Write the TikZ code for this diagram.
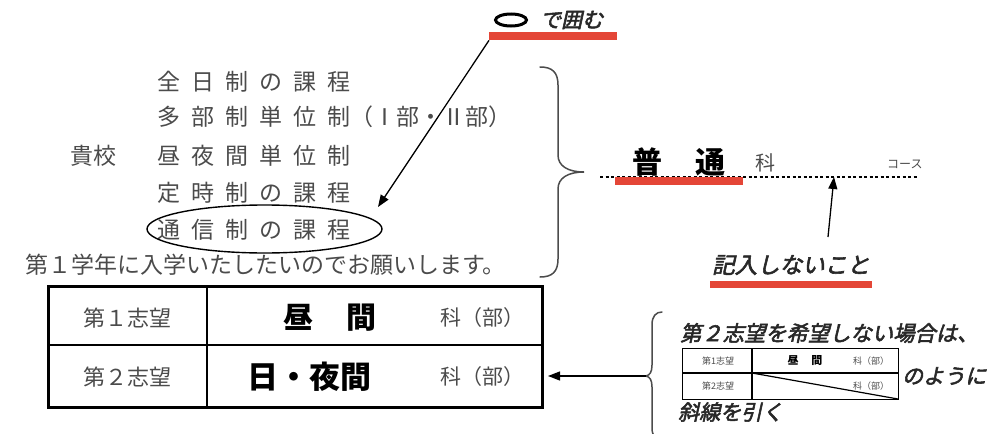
\documentclass[tikz,border=0pt]{standalone}
\usepackage{fontspec}
\usetikzlibrary{arrows.meta,shapes.geometric}
\newfontfamily\jp{Noto Sans CJK JP}
\newfontfamily\jpit{Noto Sans CJK JP}[FakeSlant=0.22,FakeBold=2.6]
\definecolor{txt}{RGB}{75,75,75}
\definecolor{lab}{RGB}{40,40,40}
\definecolor{hl}{RGB}{228,70,55}
\newcommand\fs[1]{\fontsize{#1pt}{#1pt}\selectfont}
\newcommand\gp{\hspace{11pt}}
\begin{document}
\begin{tikzpicture}[x=1pt,y=-1pt,
  body/.style={inner sep=0,anchor=west,text=txt,font=\jp\fs{23}},
  cell/.style={inner sep=0,anchor=center,text=txt,font=\jp\fs{22}},
  heavy/.style={inner sep=0,anchor=center,text=black,font=\jp\bfseries\fs{30}},
  unit/.style={inner sep=0,anchor=west,text=txt,font=\jp\fs{21}},
  note/.style={inner sep=0,anchor=west,text=lab,font=\jpit\fs{21}},
  tiny/.style={inner sep=0,anchor=center,text=txt,font=\jp\fs{9}},
  redbar/.style={fill=hl,inner sep=0,anchor=north west,minimum height=8pt},
  arr/.style={-{Triangle[length=12pt,width=9pt]},line width=1.3pt,black},
  curly/.style={line width=1.5pt,draw=black!70,line cap=round},
  grid/.style={line width=2pt,black}]
\useasboundingbox (0,0) rectangle (1005,434);
\clip (0,0) rectangle (1005,434);

% --- top label ---
\node[draw,ellipse,line width=3pt,minimum width=31pt,minimum height=12pt,inner sep=0] (oval) at (511,20) {};
\node[note] (kakomu) at (540,20) {で囲む};
\node[redbar,minimum width=128pt] (bar1) at (489,32) {};
\coordinate (tip1) at (378,207);
\draw[arr] (bar1.south west) -- (tip1);

% --- left block ---
\node[body] (l1) at (157,82) {全\gp 日\gp 制\gp の\gp 課\gp 程};
\node[body] (l2) at (157,117) {多\gp 部\gp 制\gp 単\gp 位\gp 制（Ⅰ部・Ⅱ部）};
\node[body] (kiko) at (70,156) {貴校};
\node[body] (l3) at (157,156) {昼\gp 夜\gp 間\gp 単\gp 位\gp 制};
\node[body] (l4) at (157,193) {定\gp 時\gp 制\gp の\gp 課\gp 程};
\node[body] (l5) at (157,230) {通\gp 信\gp 制\gp の\gp 課\gp 程};
\node[draw,ellipse,line width=1.4pt,minimum width=235pt,minimum height=48pt,inner sep=0] (maru) at (264.5,229) {};
\node[body,font=\jp\fs{23}] (l6) at (25,265) {第１学年に入学いたしたいのでお願いします。};

% --- big right brace ---
\coordinate (b1top) at (540,67);
\coordinate (b1tip) at (584,172);
\coordinate (b1bot) at (540,277);
\draw[curly] (b1top) .. controls (552,67) and (558,72) .. (558,85) -- (558,155)
  .. controls (558,166) and (568,172) .. (b1tip)
  .. controls (568,172) and (558,178) .. (558,189) -- (558,259)
  .. controls (558,272) and (552,277) .. (b1bot);

% --- course line ---
\coordinate (dl) at (600,177);
\coordinate (dr) at (918,177);
\draw[line width=1.2pt,dash pattern=on 3pt off 2.5pt] (dl) -- (dr);
\node[redbar,minimum width=128pt] (bar2) at (615,177) {};
\node[heavy] (futsu) at (679,162) {普\hspace{33pt}通};
\node[unit,font=\jp\fs{20}] (ka) at (755,163) {科};
\node[unit,font=\jp\fs{12}] (course) at (887,164) {コース};
\coordinate (tip2) at (834,177);
\coordinate (tail2) at (828,237);
\draw[arr] (tail2) -- (tip2);
\node[note,font=\jpit\fs{22.5}] (kinyu) at (712,265) {記入しないこと};
\node[redbar,minimum width=162pt,minimum height=7pt] (bar3) at (710,281) {};

% --- main table ---
\node[draw,line width=3pt,minimum width=494pt,minimum height=121pt,inner sep=0,anchor=north west] (tbl) at (47,285) {};
\draw[grid] (47,345) -- (541,345);
\draw[grid] (207,285) -- (207,406);
\node[cell] (s1) at (127,318) {第１志望};
\node[cell] (s2) at (127,377) {第２志望};
\node[heavy] (hiru) at (330,318) {昼\hspace{34pt}間};
\node[heavy,font=\jp\bfseries\fs{31}] (yakan) at (309,377) {日・夜間};
\node[unit] (u1) at (440,318) {科（部）};
\node[unit] (u2) at (440,377) {科（部）};

% --- lower right brace + arrow ---
\coordinate (b2top) at (662,312);
\coordinate (b2tip) at (646,376);
\coordinate (b2bot) at (662,440);
\draw[curly] (b2top) .. controls (656,312) and (652,316) .. (652,325) -- (652,365)
  .. controls (652,372) and (650,375) .. (b2tip)
  .. controls (650,377) and (652,380) .. (652,387) -- (652,428)
  .. controls (652,436) and (656,440) .. (b2bot);
\coordinate (tip3) at (548,376);
\draw[arr] (b2tip) -- (tip3);

% --- example ---
\node[note,font=\jpit\fs{21.3}] (nashi) at (680,333) {第２志望を希望しない場合は、};
\node[draw,line width=1.2pt,minimum width=216pt,minimum height=51pt,inner sep=0,anchor=north west] (stbl) at (682,348) {};
\draw[line width=1.2pt] (682,373) -- (898,373);
\draw[line width=1.2pt] (752,348) -- (752,399);
\draw[line width=1.2pt] (752,373) -- (898,399);
\node[tiny] (t1) at (718,361) {第1志望};
\node[tiny] (t2) at (718,386) {第2志望};
\node[tiny,text=black,font=\jp\bfseries\fs{11}] (t3) at (805,361) {昼\hspace{13pt}間};
\node[tiny] (t4) at (871,361) {科（部）};
\node[tiny] (t5) at (871,386) {科（部）};
\node[note] (noyoni) at (902,376) {のように};
\node[note] (shasen) at (678,412) {斜線を引く};
\end{tikzpicture}
\end{document}
